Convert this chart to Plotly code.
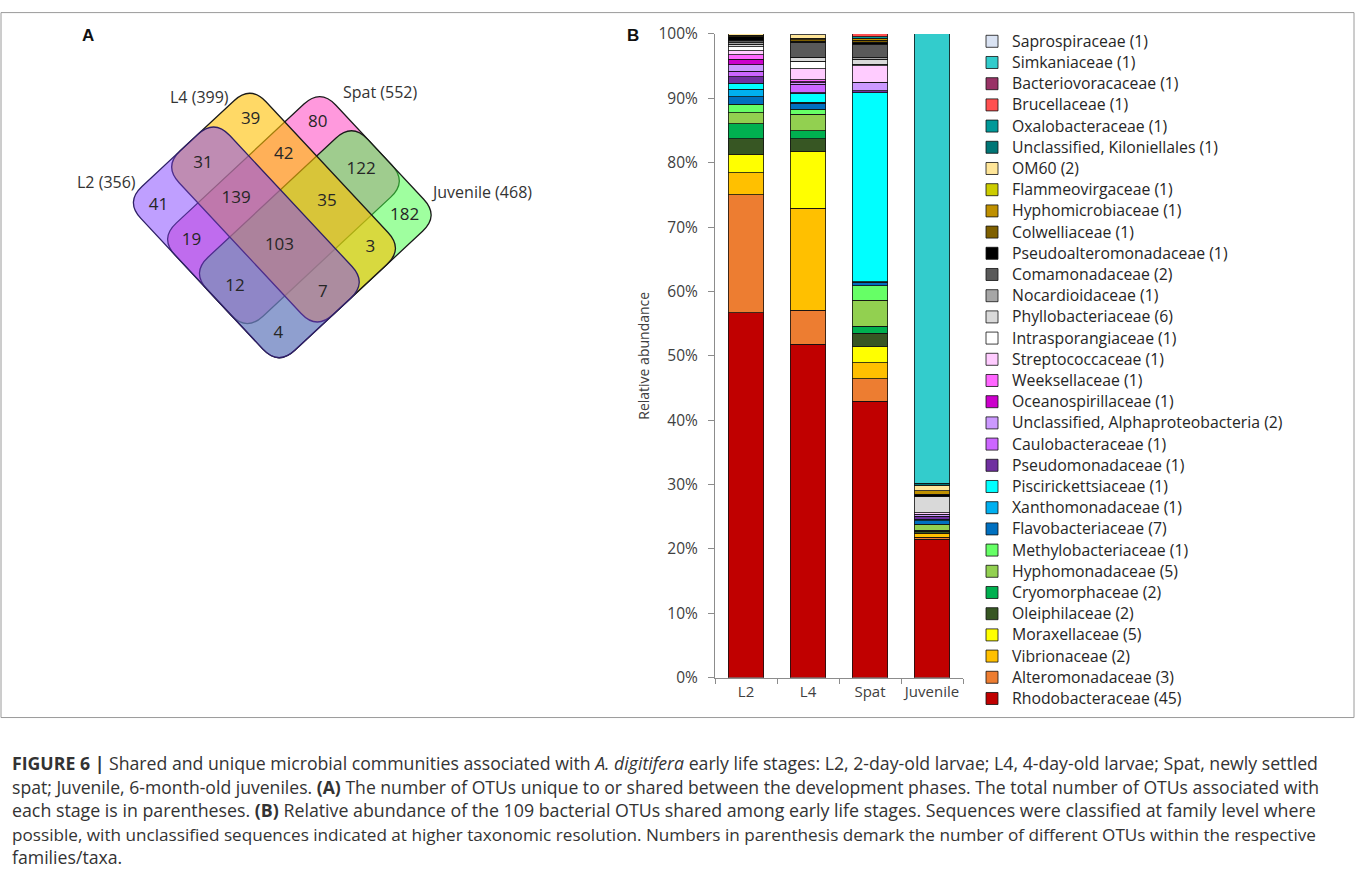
import math
import plotly.graph_objects as go

W, HF = 1355, 872
# the photographed page shows the figure slightly squeezed vertically (y_pic = KY*y_fig + Y0);
# layout positions below are given in picture pixels and converted through this mapping
KY, Y0 = 0.9754, 11.0

# ---------------- data: panel B (stacked bars, % relative abundance) ----------------
stages = ["L2", "L4", "Spat", "Juvenile"]

families = [  # bottom -> top of the stack
    "Rhodobacteraceae (45)", "Alteromonadaceae (3)", "Vibrionaceae (2)", "Moraxellaceae (5)",
    "Oleiphilaceae (2)", "Cryomorphaceae (2)", "Hyphomonadaceae (5)", "Methylobacteriaceae (1)",
    "Flavobacteriaceae (7)", "Xanthomonadaceae (1)", "Piscirickettsiaceae (1)", "Pseudomonadaceae (1)",
    "Caulobacteraceae (1)", "Unclassified, Alphaproteobacteria (2)", "Oceanospirillaceae (1)",
    "Weeksellaceae (1)", "Streptococcaceae (1)", "Intrasporangiaceae (1)", "Phyllobacteriaceae (6)",
    "Nocardioidaceae (1)", "Comamonadaceae (2)", "Pseudoalteromonadaceae (1)", "Colwelliaceae (1)",
    "Hyphomicrobiaceae (1)", "Flammeovirgaceae (1)", "OM60 (2)", "Unclassified, Kiloniellales (1)",
    "Oxalobacteraceae (1)", "Brucellaceae (1)", "Bacteriovoracaceae (1)", "Simkaniaceae (1)",
    "Saprospiraceae (1)",
]

family_colors = [
    "#c00000", "#ed7d31", "#ffc000", "#ffff00", "#375623", "#00b050", "#92d050", "#66ff66",
    "#0070c0", "#00b0f0", "#00ffff", "#7030a0", "#cc66ff", "#cc99ff", "#cc00cc", "#ff66ff",
    "#ffccff", "#ffffff", "#d9d9d9", "#a6a6a6", "#595959", "#000000", "#7f6000", "#bf9000",
    "#cccc00", "#ffe699", "#007676", "#009999", "#ff5050", "#993366", "#33cccc", "#dae3f3",
]

abund_L2 = [56.7, 18.35, 3.35, 2.9, 2.4, 2.35, 1.7, 1.3, 1.2, 1.15, 0.95, 1.0, 0.85, 1.0, 0.9, 0.7,
            0.6, 0.6, 0.4, 0.2, 0.4, 0.6, 0.2, 0.0, 0.0, 0.2, 0.0, 0.0, 0.0, 0.0, 0.0, 0.0]
abund_L4 = [51.8, 5.3, 15.8, 8.9, 1.9, 1.3, 2.5, 0.8, 0.9, 0.2, 1.3, 0.2, 1.3, 0.2, 0.2, 0.3,
            1.7, 1.2, 0.5, 0.1, 2.2, 0.3, 0.2, 0.2, 0.0, 0.6, 0.0, 0.0, 0.0, 0.0, 0.0, 0.0]
abund_Spat = [42.9, 3.5, 2.5, 2.5, 2.1, 1.1, 4.0, 2.3, 0.5, 0.1, 29.4, 0.3, 0.0, 1.3, 0.0, 0.0,
              2.6, 0.2, 0.8, 0.3, 2.0, 0.3, 0.35, 0.3, 0.0, 0.0, 0.0, 0.2, 0.5, 0.0, 0.0, 0.0]
abund_Juv = [21.5, 0.3, 0.6, 0.0, 0.3, 0.2, 0.9, 0.0, 0.6, 0.2, 0.0, 0.5, 0.0, 0.25, 0.0, 0.0,
             0.25, 0.0, 2.5, 0.0, 0.0, 0.35, 0.0, 0.6, 0.0, 0.8, 0.35, 0.0, 0.0, 0.0, 69.8, 0.0]

y_ticks = list(range(0, 101, 10))
y_ticklabels = [f"{v}%" for v in y_ticks]

# ---------------- data: panel A (Venn) ----------------
venn_sets = ["L2", "L4", "Spat", "Juvenile"]
venn_totals = [356, 399, 552, 468]
venn_regions = [
    ("L2",), ("L4",), ("Spat",), ("Juvenile",),
    ("L2", "L4"), ("L2", "Spat"), ("L2", "Juvenile"), ("L4", "Spat"), ("L4", "Juvenile"), ("Spat", "Juvenile"),
    ("L2", "L4", "Spat"), ("L2", "L4", "Juvenile"), ("L2", "Spat", "Juvenile"), ("L4", "Spat", "Juvenile"),
    ("L2", "L4", "Spat", "Juvenile"),
]
venn_counts = [41, 39, 80, 182, 31, 19, 4, 42, 3, 122, 139, 7, 12, 35, 103]

# ---------------- Venn geometry (layout, pixel frame rotated ~45 deg: s=x+y, t=x-y) -------------
S_EDGES = [331, 402, 468, 582, 648]     # column boundaries along s
T_EDGES = [-82, -8, 90, 160, 229]        # row boundaries along t
ROW_LABEL_T = [-51, 35, 127, 193]        # where the counts sit inside each row (along t)
TILT_DEG, TILT_C = 2.0, (283.0, 230.0)   # slight clockwise tilt of the whole diagram
set_bounds = {  # (s0, s1, t0, t1)
    "L2":       (S_EDGES[0], S_EDGES[4], T_EDGES[0], T_EDGES[2]),
    "L4":       (S_EDGES[0], S_EDGES[4], T_EDGES[1], T_EDGES[3]),
    "Spat":     (S_EDGES[1], S_EDGES[3], T_EDGES[0], T_EDGES[4]),
    "Juvenile": (S_EDGES[2], S_EDGES[4], T_EDGES[0], T_EDGES[4]),
}
set_fill = {
    "Spat": "rgba(255,51,187,0.5)",
    "Juvenile": "rgba(64,255,64,0.5)",
    "L4": "rgba(255,191,0,0.6)",
    "L2": "rgba(128,64,255,0.5)",
}
set_line = {"Spat": "#1a1a1a", "Juvenile": "#1a1a1a", "L4": "#1a1a1a", "L2": "#2e2066"}
draw_order = ["Spat", "Juvenile", "L4", "L2"]
set_label_pos = {"L2": (106, 181), "L4": (199, 96), "Spat": (380, 91), "Juvenile": (481, 191)}
R = 32


def st_to_xy(s, t):
    x, y = (s + t) / 2.0, (s - t) / 2.0
    a = math.radians(TILT_DEG)
    dx, dy = x - TILT_C[0], y - TILT_C[1]
    return (TILT_C[0] + dx * math.cos(a) - dy * math.sin(a),
            TILT_C[1] + dx * math.sin(a) + dy * math.cos(a))


def rrect_path(s0, s1, t0, t1, r):
    def P(s, t):
        x, y = st_to_xy(s, t)
        return f"{x:.2f},{y:.2f}"
    return (f"M{P(s0 + r, t0)} L{P(s1 - r, t0)} Q{P(s1, t0)} {P(s1, t0 + r)} "
            f"L{P(s1, t1 - r)} Q{P(s1, t1)} {P(s1 - r, t1)} L{P(s0 + r, t1)} "
            f"Q{P(s0, t1)} {P(s0, t1 - r)} L{P(s0, t0 + r)} Q{P(s0, t0)} {P(s0 + r, t0)} Z")


def region_center(members):
    a, b = "L2" in members, "L4" in members
    c, d = "Spat" in members, "Juvenile" in members
    col = 0 if not (c or d) else (1 if c and not d else (2 if c and d else 3))
    row = 0 if a and not b else (1 if a and b else (2 if b else 3))
    s = (S_EDGES[col] + S_EDGES[col + 1]) / 2
    return st_to_xy(s, ROW_LABEL_T[row])


def pf(y):
    """picture y (px from top) -> paper fraction"""
    return 1 - ((y - Y0) / KY) / HF


FONT = "Open Sans"
TXT = "#404040"
fig = go.Figure()

# stacked bars
per_stage = [abund_L2, abund_L4, abund_Spat, abund_Juv]
for i, fam in enumerate(families):
    vals = [stage_vals[i] if stage_vals[i] > 0 else None for stage_vals in per_stage]
    fig.add_trace(go.Bar(
        x=stages, y=vals, name=f"<span style='font-size:15.8px'>{fam}</span>", width=0.58,
        marker=dict(color=family_colors[i], line=dict(color="#111111", width=0.8)),
        xaxis="x", yaxis="y", hovertemplate=fam + ": %{y}%<extra></extra>",
    ))

# Venn region counts (text marks on the pixel frame axes)
centers = [region_center(m) for m in venn_regions]
fig.add_trace(go.Scatter(
    x=[c[0] for c in centers], y=[c[1] for c in centers],
    text=[str(v) for v in venn_counts], mode="text",
    textfont=dict(family=FONT, size=17, color="#262626"),
    xaxis="x2", yaxis="y2", showlegend=False, hoverinfo="skip",
))

shapes = []
for name in draw_order:
    s0, s1, t0, t1 = set_bounds[name]
    shapes.append(dict(type="path", xref="x2", yref="y2", path=rrect_path(s0, s1, t0, t1, R),
                       fillcolor=set_fill[name], line=dict(color=set_line[name], width=1.3),
                       layer="below"))
# figure frame
shapes.append(dict(type="rect", xref="x2", yref="y2", x0=1, x1=1354, y0=max(8, Y0 + 0.6), y1=717,
                   line=dict(color="#9a9a9a", width=1), fillcolor="rgba(0,0,0,0)", layer="below"))

annotations = []
for name, tot in zip(venn_sets, venn_totals):
    x, y = set_label_pos[name]
    annotations.append(dict(x=x, y=y, xref="x2", yref="y2", text=f"{name} ({tot})", showarrow=False,
                            font=dict(family=FONT, size=16, color="#333333")))
annotations.append(dict(x=88, y=35, xref="x2", yref="y2", text="<b>A</b>", showarrow=False,
                        font=dict(family="Liberation Sans", size=17, color="#111")))
annotations.append(dict(x=633, y=35, xref="x2", yref="y2", text="<b>B</b>", showarrow=False,
                        font=dict(family="Liberation Sans", size=17, color="#111")))

caption = [
    "<b>FIGURE 6 |</b> Shared and unique microbial communities associated with <i>A. digitifera</i> early life stages: L2, 2-day-old larvae; L4, 4-day-old larvae; Spat, newly settled",
    "spat; Juvenile, 6-month-old juveniles. <b>(A)</b> The number of OTUs unique to or shared between the development phases. The total number of OTUs associated with",
    "each stage is in parentheses. <b>(B)</b> Relative abundance of the 109 bacterial OTUs shared among early life stages. Sequences were classified at family level where",
    "possible, with unclassified sequences indicated at higher taxonomic resolution. Numbers in parenthesis demark the number of different OTUs within the respective",
    "families/taxa.",
]
cap_y = [762, 786, 810, 834, 857]
cap_size = [17.7, 17.6, 17.8, 17.15, 17.7]   # per-line size to mimic the justified block
for txt, y, sz in zip(caption, cap_y, cap_size):
    annotations.append(dict(x=10, y=y, xref="x2", yref="y2", text=txt, showarrow=False,
                            xanchor="left", yanchor="middle",
                            font=dict(family="Open Sans", size=sz, color="#333333")))

x0_px, x1_px = 715, 963
y0_px, y1_px = 677, 33

fig.update_layout(
    width=W, height=HF, autosize=False,
    margin=dict(l=0, r=0, t=0, b=0),
    paper_bgcolor="white", plot_bgcolor="rgba(0,0,0,0)",
    barmode="stack",
    font=dict(family=FONT, size=15, color=TXT),
    xaxis=dict(domain=[x0_px / W, x1_px / W], anchor="y", showline=True, linecolor="#8c8c8c",
               linewidth=1, ticks="outside", tickson="boundaries", ticklen=5, tickcolor="#8c8c8c",
               tickangle=0, tickfont=dict(family=FONT, size=15, color=TXT), showgrid=False),
    yaxis=dict(domain=[pf(y0_px), pf(y1_px)], anchor="x", range=[0, 100],
               tickvals=y_ticks, ticktext=y_ticklabels, showline=True, linecolor="#8c8c8c",
               linewidth=1, ticks="outside", ticklen=6, tickcolor="#8c8c8c", showgrid=False,
               ticklabelstandoff=7,
               zeroline=False, tickfont=dict(family=FONT, size=15.5, color=TXT),
               title=dict(text="Relative abundance", font=dict(family=FONT, size=14, color=TXT),
                          standoff=5)),
    xaxis2=dict(domain=[0, 1], range=[0, W], anchor="y2", visible=False, fixedrange=True),
    yaxis2=dict(domain=[0, 1], range=[Y0 + KY * HF, Y0], anchor="x2", visible=False, fixedrange=True),
    legend=dict(x=972 / W, y=pf(24.7), xanchor="left", yanchor="top", traceorder="reversed",
                font=dict(family=FONT, size=14, color="#262626"), bgcolor="rgba(0,0,0,0)",
                itemwidth=30, tracegroupgap=0),
    shapes=shapes, annotations=annotations,
    showlegend=True,
)

post = ("document.documentElement.style.margin='0px';document.body.style.margin='0px';"
        "document.documentElement.style.overflow='hidden';document.body.style.overflow='hidden';"
        "var gd=document.getElementById('{plot_id}');gd.style.position='fixed';"
        "gd.style.left='0px';gd.style.top='0px';")
fig.write_html("out.html", config={"displayModeBar": False}, post_script=post)
